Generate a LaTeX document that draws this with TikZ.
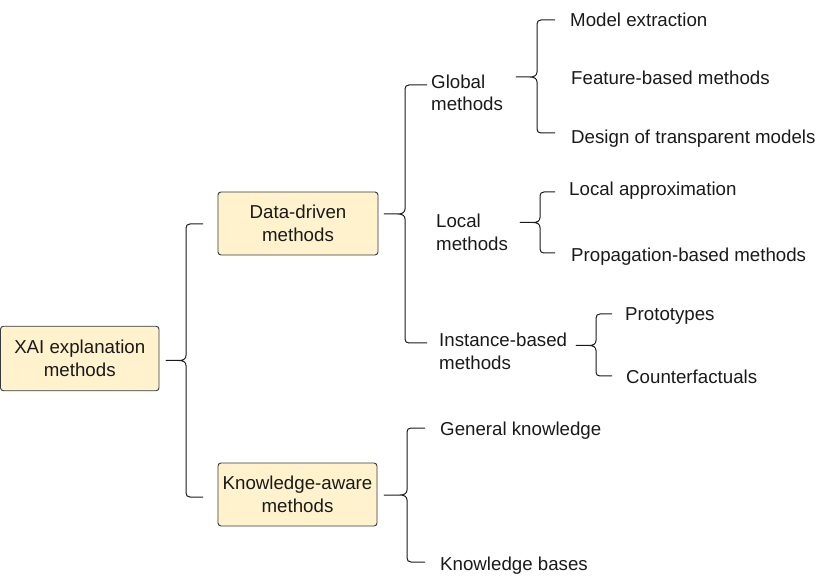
\documentclass[tikz,border=0pt]{standalone}
\usepackage{fontspec}
\setmainfont{Liberation Sans}
\definecolor{boxfill}{HTML}{FFF2CC}
\definecolor{boxline}{HTML}{36393D}
\definecolor{lnc}{HTML}{1A1A1A}
\definecolor{txt}{HTML}{1A1A1A}
% curly brace: #1 tip x, #2 vertical x, #3 end x, #4 top y, #5 mid y, #6 bottom y
\newcommand\curlyb[6]{%
  \draw[brace] (#3,#4) -- (#2+4,#4) .. controls (#2+1.5,#4) and (#2,#4+1.5) .. (#2,#4+4)
    -- (#2,#5-5) .. controls (#2,#5-1.5) and (#2-3,#5) .. (#2-7,#5) -- (#1,#5)
    -- (#2-7,#5) .. controls (#2-3,#5) and (#2,#5+1.5) .. (#2,#5+5)
    -- (#2,#6-4) .. controls (#2,#6-1.5) and (#2+1.5,#6) .. (#2+4,#6) -- (#3,#6);}
\begin{document}
\begin{tikzpicture}[x=1pt,y=-1pt,
  every node/.style={font=\fontsize{18.7pt}{22.7pt}\selectfont, text=txt},
  box/.style={draw=boxline, fill=boxfill, rounded corners=3pt, line width=0.9pt,
    align=center, inner sep=0pt},
  lbl/.style={inner sep=0pt, anchor=base west},
  lbl2/.style={inner sep=0pt, anchor=west, align=left},
  brace/.style={draw=lnc, line width=1pt, line join=round}]
\useasboundingbox (0,0) rectangle (833,585);
% boxes
\node[box, minimum width=158.5pt, minimum height=64.5pt] (xai) at (79.75,358.5) {XAI explanation\\methods};
\node[box, minimum width=160pt, minimum height=63pt] (data) at (298,223.5) {Data-driven\\methods};
\node[box, minimum width=159pt, minimum height=63pt] (know) at (297.5,494.5) {Knowledge-aware\\methods};
% second level labels
\node[lbl2] (glob) at (431,92.9) {Global\\methods};
\node[lbl2] (loc) at (436,232.2) {Local\\methods};
\node[lbl2] (inst) at (439,351.2) {Instance-based\\methods};
% leaves
\node[lbl] (me) at (570,26.7) {Model extraction};
\node[lbl] (fb) at (571,84.3) {Feature-based methods};
\node[lbl] (dt) at (571,144) {Design of transparent models};
\node[lbl] (la) at (569,196) {Local approximation};
\node[lbl] (pb) at (571,262) {Propagation-based methods};
\node[lbl] (pr) at (625,320.7) {Prototypes};
\node[lbl] (cf) at (626,383.5) {Counterfactuals};
\node[lbl] (gk) at (440,435) {General knowledge};
\node[lbl] (kb) at (440,570) {Knowledge bases};
% braces
\curlyb{166}{186}{203}{224}{360.5}{497}
\curlyb{384}{405}{427}{85}{214}{343}
\curlyb{516}{537}{555}{20}{77}{133}
\curlyb{520}{540}{555}{192}{222.5}{253}
\curlyb{576}{596}{612}{314}{345.5}{376}
\curlyb{384}{407}{425}{428}{495}{562}
\end{tikzpicture}
\end{document}
